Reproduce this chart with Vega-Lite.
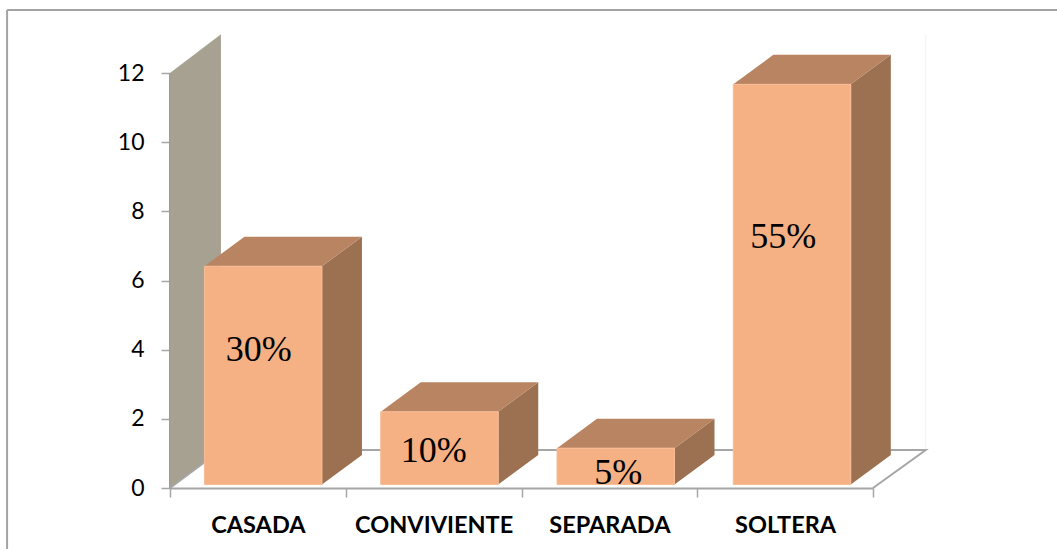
{
  "$schema": "https://vega.github.io/schema/vega-lite/v6.json",
  "width": 703,
  "height": 415,
  "autosize": "none",
  "padding": {"left": 170, "top": 73, "right": 184, "bottom": 61},
  "background": "white",
  "config": {"view": {"stroke": null}},
  "datasets": {
    "bars": [
      {"category": "CASADA", "value": 6, "pct": "30%"},
      {"category": "CONVIVIENTE", "value": 2, "pct": "10%"},
      {"category": "SEPARADA", "value": 1, "pct": "5%"},
      {"category": "SOLTERA", "value": 11, "pct": "55%"}
    ]
  },
  "layer": [
    {
      "data": {"values": [{"x": -0.927, "y": 13.82, "x2": 5.06, "y2": 13.82}, {"x": -0.927, "y": 13.82, "x2": -0.927, "y2": -1.8}]},
      "mark": {"type": "rule", "color": "#a3a3a3", "strokeWidth": 2},
      "encoding": {
        "x": {
          "field": "x", "type": "quantitative", "scale": {"domain": [0, 4], "nice": false},
          "axis": {
            "title": null, "values": [0, 0.5, 1, 1.5, 2, 2.5, 3, 3.5, 4],
            "grid": false, "domainColor": "#a6a6a6", "domainWidth": 2,
            "tickColor": {"expr": "datum.value % 1 === 0 ? '#a6a6a6' : 'transparent'"}, "tickWidth": 1.5, "tickSize": 9,
            "labelExpr": "datum.value === 0.5 ? 'CASADA' : datum.value === 1.5 ? 'CONVIVIENTE' : datum.value === 2.5 ? 'SEPARADA' : datum.value === 3.5 ? 'SOLTERA' : ''",
            "labelFont": "Lato", "labelFontWeight": "bold", "labelFontSize": 23.5, "labelColor": "black",
            "labelPadding": 16, "labelOverlap": false, "labelBound": false, "labelFlush": false
          }
        },
        "y": {
          "field": "y", "type": "quantitative", "scale": {"domain": [0, 12], "nice": false},
          "axis": {
            "title": null, "values": [0, 2, 4, 6, 8, 10, 12],
            "grid": false, "domainColor": "#9a9a9a", "domainWidth": 3,
            "tickColor": "#a6a6a6", "tickWidth": 1.5, "tickSize": 9,
            "labelFont": "Lato", "labelFontSize": 23, "labelColor": "black", "labelPadding": 17
          }
        },
        "x2": {"field": "x2"},
        "y2": {"field": "y2"}
      }
    },
    {
      "data": {"values": [{"x": 4.3, "y": 1.1, "y2": 13.12}]},
      "mark": {"type": "rule", "color": "#f2f2f2", "strokeWidth": 1},
      "encoding": {
        "x": {"field": "x", "type": "quantitative"},
        "y": {"field": "y", "type": "quantitative"},
        "y2": {"field": "y2"}
      }
    },
    {
      "data": {"values": [
        {"dx": 0, "wallTop": 12, "wallBottom": 0},
        {"dx": 0.29, "wallTop": 13.12, "wallBottom": 1.1}
      ]},
      "mark": {"type": "area", "color": "#a6a190"},
      "encoding": {
        "x": {"field": "dx", "type": "quantitative"},
        "y": {"field": "wallTop", "type": "quantitative"},
        "y2": {"field": "wallBottom"}
      }
    },
    {
      "data": {"values": [
        {"fx": 0, "fy": 0, "o": 0},
        {"fx": 0.29, "fy": 1.1, "o": 1},
        {"fx": 4.3, "fy": 1.1, "o": 2},
        {"fx": 4, "fy": 0, "o": 3}
      ]},
      "mark": {"type": "line", "color": "#a6a6a6", "strokeWidth": 2},
      "encoding": {
        "x": {"field": "fx", "type": "quantitative"},
        "y": {"field": "fy", "type": "quantitative"},
        "order": {"field": "o", "type": "quantitative"}
      }
    },
    {
      "data": {"name": "bars"},
      "transform": [
        {"calculate": "indexof(['CASADA','CONVIVIENTE','SEPARADA','SOLTERA'], datum.category)", "as": "idx"},
        {"calculate": "datum.idx * 1.003 + 0.196 + 0.6686", "as": "xr"},
        {"calculate": "0.1 + datum.value * 1.052", "as": "top"},
        {"calculate": "[0, 1]", "as": "t"},
        {"flatten": ["t"]},
        {"calculate": "datum.xr + datum.t * 0.2276", "as": "sx"},
        {"calculate": "datum.top + datum.t * 0.853", "as": "sy"},
        {"calculate": "0.1 + datum.t * 0.853", "as": "sy2"}
      ],
      "mark": {"type": "area", "color": "#9b7152"},
      "encoding": {
        "x": {"field": "sx", "type": "quantitative"},
        "y": {"field": "sy", "type": "quantitative"},
        "y2": {"field": "sy2"},
        "detail": {"field": "category"}
      }
    },
    {
      "data": {"name": "bars"},
      "transform": [
        {"calculate": "indexof(['CASADA','CONVIVIENTE','SEPARADA','SOLTERA'], datum.category)", "as": "idx"},
        {"calculate": "datum.idx * 1.003 + 0.196", "as": "x0"},
        {"calculate": "datum.x0 + 0.6686", "as": "xr"},
        {"calculate": "0.1 + datum.value * 1.052", "as": "top"},
        {"calculate": "[0, 1, 2, 3]", "as": "t"},
        {"flatten": ["t"]},
        {"calculate": "[datum.x0, datum.x0 + 0.2276, datum.xr, datum.xr + 0.2276][datum.t]", "as": "tx"},
        {"calculate": "datum.top + (datum.t > 0 ? 0.853 : 0)", "as": "ty"},
        {"calculate": "datum.top + (datum.t > 2 ? 0.853 : 0)", "as": "ty2"}
      ],
      "mark": {"type": "area", "color": "#b98462"},
      "encoding": {
        "x": {"field": "tx", "type": "quantitative"},
        "y": {"field": "ty", "type": "quantitative"},
        "y2": {"field": "ty2"},
        "detail": {"field": "category"}
      }
    },
    {
      "data": {"name": "bars"},
      "transform": [
        {"calculate": "indexof(['CASADA','CONVIVIENTE','SEPARADA','SOLTERA'], datum.category)", "as": "idx"},
        {"calculate": "datum.idx * 1.003 + 0.196", "as": "x0"},
        {"calculate": "datum.x0 + 0.6686", "as": "xr"},
        {"calculate": "0.1 + datum.value * 1.052", "as": "top"},
        {"calculate": "0.1", "as": "base"}
      ],
      "mark": {"type": "rect", "color": "#f5b183", "stroke": "#f7bd96", "strokeWidth": 1},
      "encoding": {
        "x": {"field": "x0", "type": "quantitative"},
        "x2": {"field": "xr"},
        "y": {"field": "top", "type": "quantitative"},
        "y2": {"field": "base"}
      }
    },
    {
      "data": {"name": "bars"},
      "transform": [
        {"calculate": "indexof(['CASADA','CONVIVIENTE','SEPARADA','SOLTERA'], datum.category)", "as": "idx"},
        {"calculate": "[0.505, 1.5, 2.55, 3.49][datum.idx]", "as": "lx"},
        {"calculate": "[4.0, 1.07, 0.43, 7.25][datum.idx]", "as": "ly"}
      ],
      "mark": {"type": "text", "font": "Liberation Serif", "fontSize": 36, "color": "black", "baseline": "middle"},
      "encoding": {
        "x": {"field": "lx", "type": "quantitative"},
        "y": {"field": "ly", "type": "quantitative"},
        "text": {"field": "pct"}
      }
    }
  ]
}
